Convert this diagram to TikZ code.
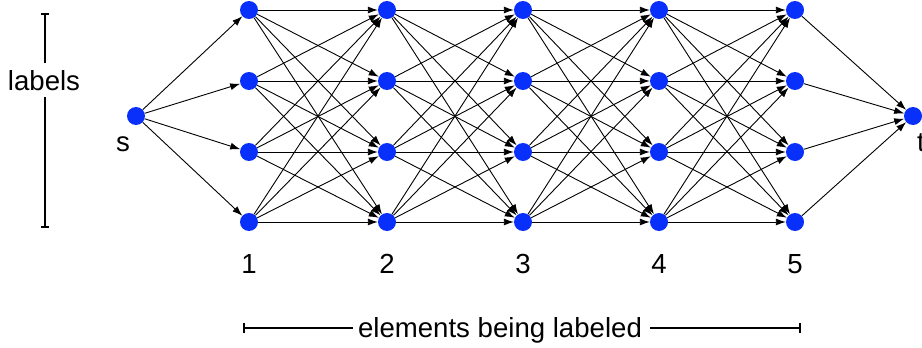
\documentclass[tikz,border=0pt]{standalone}
\usepackage{fontspec}
\setmainfont{Liberation Sans}
\usetikzlibrary{arrows.meta}
\definecolor{nodeblue}{RGB}{8,48,250}
\begin{document}
\begin{tikzpicture}[x=1pt,y=-1pt,
  vert/.style={circle,fill=nodeblue,draw=none,inner sep=0pt,minimum size=18pt},
  edge/.style={-{Latex[length=10pt,width=7pt]},line width=0.9pt},
  lbl/.style={font=\fontsize{27.6}{32}\selectfont,inner sep=0pt,anchor=base},
  scalebar/.style={line width=1.8pt}]
\useasboundingbox (0,0) rectangle (922,348);
\node[vert] (s) at (136,116) {};
\node[vert] (t) at (913,116) {};
\foreach \c/\x in {1/249,2/387,3/523,4/659,5/795}{
  \foreach \r/\y in {1/10,2/81,3/152,4/222}{
    \node[vert] (n\c\r) at (\x,\y) {};
  }
  \node[lbl] (num\c) at (\x,273) {\c};
}
\foreach \r in {1,...,4}{
  \draw[edge] (s) -- (n1\r);
  \draw[edge] (n5\r) -- (t);
}
\foreach \c in {1,...,4}{
  \pgfmathtruncatemacro{\d}{\c+1}
  \foreach \a in {1,...,4}{
    \foreach \b in {1,...,4}{
      \draw[edge] (n\c\a) -- (n\d\b);
    }
  }
}
\node[lbl] (slab) at (123,151) {s};
\node[lbl,anchor=base west] (tlab) at (917,151) {t};
% left scale bar
\node[lbl] (labs) at (44,90) {labels};
\coordinate (lt) at (45,13);
\coordinate (lgt) at (45,63);
\coordinate (lgb) at (45,97);
\coordinate (lb) at (45,228);
\draw[scalebar,{Bar[width=8pt]}-] (lt) -- (lgt);
\draw[scalebar,-{Bar[width=8pt]}] (lgb) -- (lb);
% bottom scale bar
\node[lbl] (elab) at (500,337) {elements being labeled};
\coordinate (bl) at (243,328);
\coordinate (blg) at (353,328);
\coordinate (brg) at (650,328);
\coordinate (br) at (801,328);
\draw[scalebar,{Bar[width=10pt]}-] (bl) -- (blg);
\draw[scalebar,-{Bar[width=10pt]}] (brg) -- (br);
\end{tikzpicture}
\end{document}
